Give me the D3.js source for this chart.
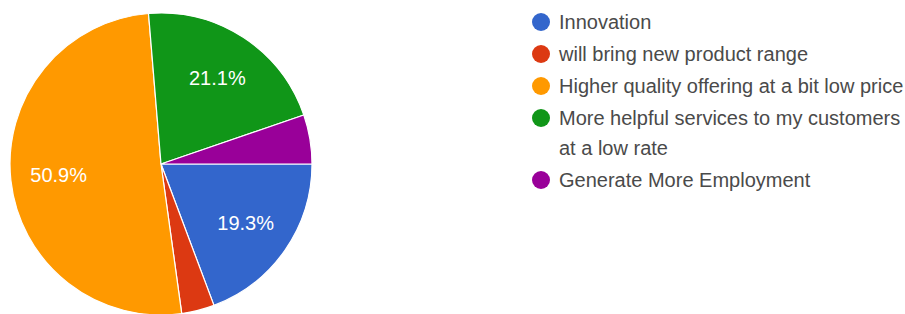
<!DOCTYPE html>
<html>
<head>
  <meta charset="utf-8">
  <title>Pie chart</title>
  <style>
    body { margin: 0; background: #fff; }
    svg text { font-family: Arial, "Liberation Sans", sans-serif; }
    .legend text { fill: #4a4a4a; font-size: 20px; }
    .slice-label { fill: #fff; font-size: 20px; }
  </style>
  <script src="https://d3js.org/d3.v7.min.js"></script>
</head>
<body>
  <div id="chart"></div>
  <script>
    // data
    var categories = [
      "Innovation",
      "will bring new product range",
      "Higher quality offering at a bit low price",
      "More helpful services to my customers at a low rate",
      "Generate More Employment"
    ];
    var counts = [11, 2, 29, 12, 3];
    var colors = ["#3366cc", "#dc3912", "#ff9900", "#109618", "#990099"];

    var width = 905, height = 314;
    var cx = 161, cy = 164, radius = 151;

    var svg = d3.select("#chart").append("svg")
        .attr("width", width)
        .attr("height", height);

    var data = categories.map(function(c, i) {
      return { name: c, value: counts[i], color: colors[i] };
    });
    var total = d3.sum(counts);

    var pie = d3.pie()
      .sort(null)
      .value(function(d) { return d.value; })
      .startAngle(Math.PI / 2)
      .endAngle(Math.PI / 2 + 2 * Math.PI);

    var arc = d3.arc().innerRadius(0).outerRadius(radius);
    var labelArc = d3.arc().innerRadius(103).outerRadius(103);

    var g = svg.append("g")
        .attr("transform", "translate(" + cx + "," + cy + ")");

    var arcs = pie(data);

    g.selectAll("path")
      .data(arcs)
      .enter().append("path")
        .attr("d", arc)
        .attr("fill", function(d) { return d.data.color; })
        .attr("stroke", "#fff")
        .attr("stroke-width", 1.2);

    // percentage labels only on the bigger slices
    g.selectAll(".slice-label")
      .data(arcs.filter(function(d) { return d.value / total > 0.1; }))
      .enter().append("text")
        .attr("class", "slice-label")
        .attr("transform", function(d) { return "translate(" + labelArc.centroid(d) + ")"; })
        .attr("text-anchor", "middle")
        .attr("dy", "0.35em")
        .text(function(d) { return (d.value / total * 100).toFixed(1) + "%"; });

    // legend
    var legend = svg.append("g").attr("class", "legend")
        .attr("transform", "translate(541,22)");

    var y = 0;
    data.forEach(function(d) {
      var item = legend.append("g").attr("transform", "translate(0," + y + ")");
      item.append("circle")
        .attr("r", 9)
        .attr("fill", d.color);
      var text = item.append("text");

      // wrap long labels
      var words = d.name.split(" "), line = [], lines = 0;
      var tspan = text.append("tspan").attr("x", 18).attr("y", 0).attr("dy", "0.35em");
      words.forEach(function(w) {
        line.push(w);
        tspan.text(line.join(" "));
        if (tspan.node().getComputedTextLength() > 350 && line.length > 1) {
          line.pop();
          tspan.text(line.join(" "));
          line = [w];
          lines++;
          tspan = text.append("tspan").attr("x", 18).attr("y", lines * 30)
            .attr("dy", "0.35em").text(w);
        }
      });
      y += 32 + lines * 30;
    });
  </script>
</body>
</html>
